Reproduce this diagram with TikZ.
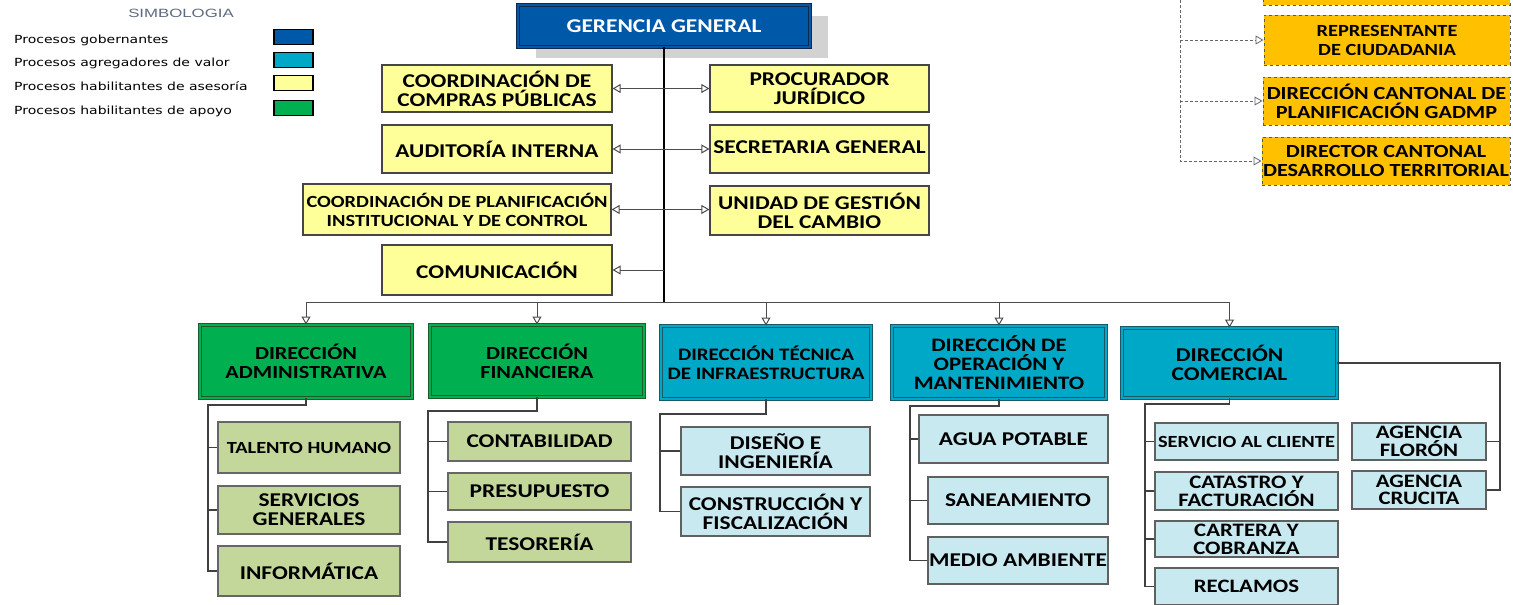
\documentclass[tikz,border=0pt]{standalone}
\usepackage{fontspec}
\setmainfont{Carlito}[FakeStretch=1.2]
\newfontfamily\legfont{DejaVu Sans}[FakeStretch=1.25]
\newfontfamily\simfont{Liberation Sans}[FakeStretch=1.4]
\usetikzlibrary{arrows.meta,shadows}

\definecolor{gobblue}{HTML}{0058A8}
\definecolor{gobline}{HTML}{0D2A4D}
\definecolor{valteal}{HTML}{00A8C8}
\definecolor{valline}{HTML}{1B5866}
\definecolor{valsub}{HTML}{C9E9F1}
\definecolor{asesyel}{HTML}{FFFF99}
\definecolor{apogreen}{HTML}{00B050}
\definecolor{apoline}{HTML}{1E5A2C}
\definecolor{aposub}{HTML}{C4D79B}
\definecolor{ciudorange}{HTML}{FFC000}
\definecolor{simgray}{HTML}{5E6A80}

\newcommand{\fs}[1]{\bfseries\fontsize{#1}{19}\selectfont}

\tikzset{
  wh/.style 2 args={minimum width=#1, minimum height=#2},
  box/.style={draw, rectangle, align=center, inner sep=1pt, line width=1.2pt, font=\fs{19.5}},
  gob/.style={box, fill=gobblue, draw=gobline, text=white, double=gobblue,
    double distance=1.5pt, line width=0.8pt},
  ases/.style={box, fill=asesyel, draw=gray!55!black},
  apo/.style={box, fill=apogreen, draw=apoline, double=apogreen, double distance=2pt,
    line width=0.9pt, font=\fs{18.5}},
  val/.style={box, fill=valteal, draw=valline, double=valteal, double distance=2pt,
    line width=0.9pt, font=\fs{18.5}},
  aposubbox/.style={box, fill=aposub, draw=gray!80!black},
  valsubbox/.style={box, fill=valsub, draw=gray!75!black},
  ciud/.style={box, fill=ciudorange, draw=gray!70!black, dashed, line width=1pt, font=\fs{18.5}},
  link/.style={draw=black!70, line width=1pt},
  sub/.style={draw=black!75, line width=1.2pt},
  dotlink/.style={draw=black!60, densely dashed, line width=0.8pt},
  tip/.style={-{Triangle[open,length=8pt,width=9pt]}},
  tips/.style={{Triangle[open,length=8pt,width=9pt]}-{Triangle[open,length=8pt,width=9pt]}},
  swatch/.style={draw=black, line width=1.4pt, wh={39}{15}},
  legtext/.style={anchor=west, inner sep=0pt, font=\legfont\fontsize{11.2}{11.2}\selectfont}
}

\begin{document}
\begin{tikzpicture}[x=1pt,y=-1pt]
\useasboundingbox (0,0) rectangle (1513,605);

% Legend
\node[font=\simfont\fontsize{12}{12}\selectfont, text=simgray] (simb) at (181,13) {SIMBOLOGIA};
\foreach \i/\y/\c/\t in {1/40/gobblue/Procesos gobernantes,
                         2/63/valteal/Procesos agregadores de valor,
                         3/86/asesyel/Procesos habilitantes de asesoría,
                         4/111/apogreen/Procesos habilitantes de apoyo} {
  \node[legtext] (leg\i) at (14,\y) {\t};
  \node[swatch, fill=\c] (sw\i) at (293.5,\y-3) {};
}

% Gerencia
\node[gob, wh={292}{42}, drop shadow={shadow xshift=18pt, shadow yshift=-11pt, fill=gray!35, opacity=1}]
  (gg) at (664,26) {GERENCIA GENERAL};

% Asesoria
\node[ases, wh={230}{47}] (ccp) at (497,88.5) {COORDINACIÓN DE\\COMPRAS PÚBLICAS};
\node[ases, wh={230}{48}] (audi) at (497,149) {AUDITORÍA INTERNA};
\node[ases, wh={308}{51}, font=\fs{17}] (plan) at (457,209.5)
  {COORDINACIÓN DE PLANIFICACIÓN\\INSTITUCIONAL Y DE CONTROL};
\node[ases, wh={230}{50}] (comu) at (497,270) {COMUNICACIÓN};
\node[ases, wh={219}{47}] (pj) at (819.5,88.5) {PROCURADOR\\JURÍDICO};
\node[ases, wh={219}{48}] (sec) at (819.5,149) {\raisebox{3pt}{SECRETARIA GENERAL}};
\node[ases, wh={219}{49}] (ugc) at (819.5,210.5) {UNIDAD DE GESTIÓN\\DEL CAMBIO};

% Ciudadania (dashed)
\node[ciud, wh={247}{50}] (otop) at (1386.5,-20) {};
\node[ciud, wh={246}{50}, font=\fs{17}] (rep) at (1387,40) {REPRESENTANTE\\DE CIUDADANIA};
\node[ciud, wh={247}{48}] (dcp) at (1386.5,101) {DIRECCIÓN CANTONAL DE\\PLANIFICACIÓN GADMP};
\node[ciud, wh={248}{48}] (dct) at (1386,161) {DIRECTOR CANTONAL\\DESARROLLO TERRITORIAL};

% Direcciones
\node[apo, wh={212}{73}] (adm) at (306,361.5) {DIRECCIÓN\\ADMINISTRATIVA};
\node[apo, wh={214}{72}] (fin) at (537,361) {DIRECCIÓN\\FINANCIERA};
\node[val, wh={210}{73}, font=\fs{17.5}] (tec) at (766,362.5) {DIRECCIÓN TÉCNICA\\DE INFRAESTRUCTURA};
\node[val, wh={214}{73}, font=\fs{19}] (ope) at (999,362.5) {DIRECCIÓN DE\\OPERACIÓN Y\\MANTENIMIENTO};
\node[val, wh={215}{70}, font=\fs{19.5}] (com) at (1229.5,363) {DIRECCIÓN\\COMERCIAL};

% Unidades
\node[aposubbox, wh={182}{51}, font=\fs{17}] (th) at (309,447.5) {TALENTO HUMANO};
\node[aposubbox, wh={182}{48}] (sg) at (309,510) {SERVICIOS\\GENERALES};
\node[aposubbox, wh={182}{50}] (info) at (309,571) {INFORMÁTICA};
\node[aposubbox, wh={183}{39}] (cont) at (539.5,441.5) {CONTABILIDAD};
\node[aposubbox, wh={183}{37}] (pres) at (539.5,491.5) {PRESUPUESTO};
\node[aposubbox, wh={183}{40}] (tes) at (539.5,542) {TESORERÍA};
\node[valsubbox, wh={189}{48}] (dis) at (775.5,451) {DISEÑO E\\INGENIERÍA};
\node[valsubbox, wh={189}{49}] (cons) at (775.5,511.5) {CONSTRUCCIÓN Y\\FISCALIZACIÓN};
\node[valsubbox, wh={189}{48}] (agua) at (1013.5,439) {AGUA POTABLE};
\node[valsubbox, wh={180}{47}] (san) at (1018,500.5) {SANEAMIENTO};
\node[valsubbox, wh={180}{47}] (med) at (1018,560.5) {MEDIO AMBIENTE};
\node[valsubbox, wh={183}{37}, font=\fs{17}] (serv) at (1246.5,441.5) {SERVICIO AL CLIENTE};
\node[valsubbox, wh={183}{38}, font=\bfseries\fontsize{19}{18}\selectfont] (cat) at (1246.5,491) {CATASTRO Y\\FACTURACIÓN};
\node[valsubbox, wh={183}{36}, font=\bfseries\fontsize{19}{18}\selectfont] (cart) at (1246.5,539) {CARTERA Y\\COBRANZA};
\node[valsubbox, wh={183}{37}, font=\fs{19}] (recl) at (1246.5,586.5) {RECLAMOS};
\node[valsubbox, wh={134}{37}, font=\bfseries\fontsize{19}{17.5}\selectfont] (flo) at (1419,441.5) {AGENCIA\\FLORÓN};
\node[valsubbox, wh={134}{38}, font=\bfseries\fontsize{19}{17.5}\selectfont] (cru) at (1419,490) {AGENCIA\\CRUCITA};

% Main trunk and bus
\coordinate (bus) at (664,302);
\draw[link, line width=1.5pt, black] (gg.south) -- (bus);
\draw[link] (bus -| adm) -- (bus -| com);
\foreach \d in {adm,fin,tec,ope,com}
  \draw[link, tip] (bus -| \d) -- (\d.north);

% Asesoria arrows
\foreach \l/\r in {ccp/pj, audi/sec}
  \draw[link, tips] (\l.east) -- (\r.west);
\draw[link, tips] (plan.east) -- (plan.east -| ugc.west);
\draw[link, tip] (comu.east -| gg.south) -- (comu.east);

% Ciudadania links
\coordinate (ciudT) at (1180,-5);
\draw[dotlink, tip] (ciudT) |- (dct.west);
\foreach \o in {rep,dcp}
  \draw[dotlink, tip] (ciudT |- \o.west) -- (\o.west);

% Administrativa
\coordinate (admT) at (208,405);
\draw[sub] (adm.south) |- (admT) |- (info.west);
\foreach \s in {th,sg} \draw[sub] (admT |- \s.west) -- (\s.west);

% Financiera
\coordinate (finT) at (428,411);
\draw[sub] (fin.south) |- (finT) |- (tes.west);
\foreach \s in {cont,pres} \draw[sub] (finT |- \s.west) -- (\s.west);

% Tecnica
\coordinate (tecT) at (660,414);
\draw[sub] (tec.south) |- (tecT) |- (cons.west);
\draw[sub] (tecT |- dis.west) -- (dis.west);

% Operacion
\coordinate (opeT) at (910,406);
\draw[sub] (ope.south) |- (opeT) |- (med.west);
\foreach \s in {agua,san} \draw[sub] (opeT |- \s.west) -- (\s.west);

% Comercial
\coordinate (comT) at (1145,404);
\draw[sub] (com.south) |- (comT) |- (recl.west);
\foreach \s in {serv,cat,cart} \draw[sub] (comT |- \s.west) -- (\s.west);
\coordinate (agT) at (1500,363);
\draw[sub] (com.east) -- (agT) |- (cru.east);
\draw[sub] (agT |- flo.east) -- (flo.east);

\end{tikzpicture}
\end{document}
